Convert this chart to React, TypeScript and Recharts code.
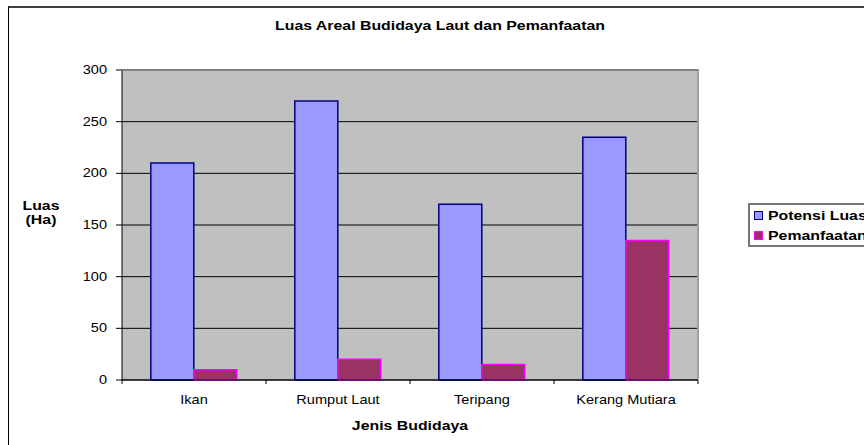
import { BarChart, Bar, XAxis, YAxis, CartesianGrid, Legend } from 'recharts'

const categories = ['Ikan', 'Rumput Laut', 'Teripang', 'Kerang Mutiara']
const potensiLuas = [210, 270, 170, 235]
const pemanfaatan = [10, 20, 15, 135]
const yTicks = [0, 50, 100, 150, 200, 250, 300]
const gridValues = [0, 50, 100, 150, 200, 250]

const series = [
  { key: 'potensi', name: 'Potensi Luas', fill: '#9999FF', stroke: '#000080' },
  { key: 'pemanfaatan', name: 'Pemanfaatan', fill: '#993366', stroke: '#FF00FF' },
]

const data = categories.map((name, i) => ({
  name,
  potensi: potensiLuas[i],
  pemanfaatan: pemanfaatan[i],
}))

const W = 864
const H = 445
const PLOT = { left: 122, top: 70, right: 698, bottom: 380 }
const BAND = (PLOT.right - PLOT.left) / categories.length

const FONT = '"Liberation Sans", Arial, sans-serif'
// the old spreadsheet text is a little wider than plain Arial
const REG_STRETCH = 1.12
const BOLD_STRETCH = 1.22

function Stretch({ x, y, anchor = 'middle', bold = false, children }: any) {
  const s = bold ? BOLD_STRETCH : REG_STRETCH
  return (
    <text
      transform={`translate(${x},${y}) scale(${s},1)`}
      textAnchor={anchor}
      fontFamily={FONT}
      fontSize={13}
      fontWeight={bold ? 700 : 400}
      fill="#000"
    >
      {children}
    </text>
  )
}

// category label in the middle, tick marks on the band edges
function XTick(props: any) {
  const { x, payload, index } = props
  const half = BAND / 2
  return (
    <g>
      {index === 0 && (
        <line x1={x - half} x2={x - half} y1={PLOT.bottom} y2={PLOT.bottom + 4} stroke="#000" />
      )}
      <line x1={x + half} x2={x + half} y1={PLOT.bottom} y2={PLOT.bottom + 4} stroke="#000" />
      <Stretch x={x} y={PLOT.bottom + 24}>
        {payload.value}
      </Stretch>
    </g>
  )
}

function YTick(props: any) {
  const { x, y, payload } = props
  return (
    <Stretch x={x} y={y + 4} anchor="end">
      {payload.value}
    </Stretch>
  )
}

function YLabel({ viewBox }: any) {
  const cx = viewBox.x + 41
  const mid = viewBox.y + viewBox.height / 2
  return (
    <g>
      <Stretch x={cx} y={mid - 15.5} bold>
        Luas
      </Stretch>
      <Stretch x={cx} y={mid - 1.5} bold>
        (Ha)
      </Stretch>
    </g>
  )
}

function XLabel({ viewBox }: any) {
  return (
    <Stretch x={viewBox.x + viewBox.width / 2} y={PLOT.bottom + 50} bold>
      Jenis Budidaya
    </Stretch>
  )
}

function LegendBox() {
  return (
    <div
      style={{
        width: 160,
        height: 44,
        boxSizing: 'border-box',
        border: '2px solid #777',
        background: '#fff',
      }}
    >
      {series.map((s) => (
        <div key={s.key} style={{ display: 'flex', alignItems: 'center', height: 20 }}>
          <span
            style={{
              display: 'inline-block',
              boxSizing: 'border-box',
              width: 9,
              height: 9,
              marginLeft: 4,
              marginRight: 5,
              background: s.fill,
              border: `1.5px solid ${s.stroke}`,
            }}
          />
          <span
            style={{
              fontFamily: FONT,
              fontWeight: 700,
              fontSize: 13,
              whiteSpace: 'nowrap',
              transform: `scaleX(${BOLD_STRETCH})`,
              transformOrigin: 'left center',
            }}
          >
            {s.name}
          </span>
        </div>
      ))}
    </div>
  )
}

export default function App() {
  return (
    <div
      style={{
        position: 'fixed',
        left: 0,
        top: 0,
        width: W,
        height: H,
        overflow: 'hidden',
        background: '#fff',
        fontFamily: FONT,
      }}
    >
      {/* outer chart frame, runs past the right and bottom edge */}
      <div
        style={{
          position: 'absolute',
          left: 8,
          top: 6,
          width: 1000,
          height: 1000,
          borderLeft: '1px solid #000',
          borderTop: '2px solid #404040',
        }}
      />
      <div
        style={{
          position: 'absolute',
          left: 0,
          top: 18,
          width: 880,
          textAlign: 'center',
          lineHeight: '16px',
          fontSize: 13,
          fontWeight: 700,
          transform: `scaleX(${BOLD_STRETCH})`,
          whiteSpace: 'nowrap',
        }}
      >
        Luas Areal Budidaya Laut dan Pemanfaatan
      </div>
      <div style={{ position: 'absolute', left: 0, top: 0 }}>
        <BarChart
          width={W}
          height={H}
          data={data}
          margin={{ top: PLOT.top, right: W - PLOT.right, bottom: 25, left: 0 }}
          barCategoryGap="20%"
          barGap={0}
        >
          <CartesianGrid
            vertical={false}
            horizontalValues={gridValues}
            stroke="#000"
            fill="#C0C0C0"
            fillOpacity={1}
          />
          <XAxis
            dataKey="name"
            height={40}
            stroke="#000"
            tickLine={false}
            tickSize={4}
            tickMargin={0}
            tick={<XTick />}
            interval={0}
            label={{ content: <XLabel /> }}
          />
          <YAxis
            width={PLOT.left}
            domain={[0, 300]}
            ticks={yTicks}
            stroke="#000"
            tickSize={6}
            tickMargin={9}
            tick={<YTick />}
            label={{ content: <YLabel /> }}
          />
          <Legend
            layout="vertical"
            align="center"
            verticalAlign="middle"
            wrapperStyle={{ left: 748, top: 203, width: 160 }}
            content={() => <LegendBox />}
          />
          {series.map((s) => (
            <Bar
              key={s.key}
              dataKey={s.key}
              name={s.name}
              fill={s.fill}
              stroke={s.stroke}
              strokeWidth={1.5}
              isAnimationActive={false}
            />
          ))}
        </BarChart>
      </div>
      {/* plot area edge: grey top and right */}
      <div
        style={{
          position: 'absolute',
          left: PLOT.left,
          top: PLOT.top - 1,
          width: PLOT.right - PLOT.left + 1,
          height: PLOT.bottom - PLOT.top,
          boxSizing: 'border-box',
          borderTop: '2px solid #808080',
          borderRight: '2px solid #a0a0a0',
          pointerEvents: 'none',
        }}
      />
    </div>
  )
}
